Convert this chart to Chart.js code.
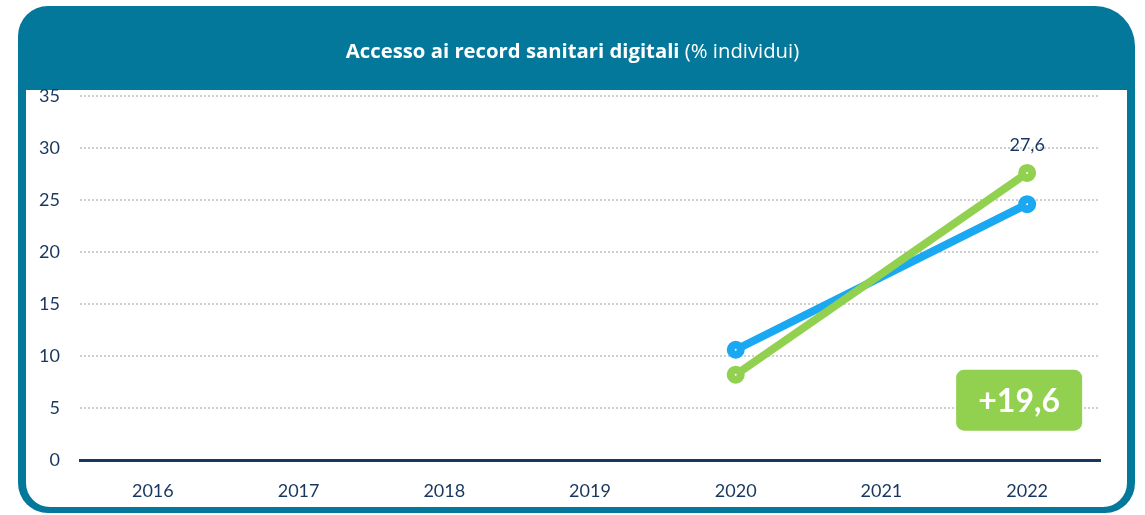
<!DOCTYPE html>
<html>
<head>
<meta charset="utf-8">
<script src="https://cdn.jsdelivr.net/npm/chart.js@4"></script>
<style>
  body { margin: 0; width: 1145px; height: 515px; background: #fff; font-family: "Open Sans", Lato, sans-serif; overflow: hidden; }
  #frame { position: absolute; left: 18px; top: 6px; width: 1117px; height: 507px; background: #03789a; border-radius: 30px 40px 30px 30px; }
  #inner { position: absolute; left: 8px; right: 8px; top: 84px; bottom: 6px; background: #fff; border-radius: 0 0 24px 24px; }
  #head { position: absolute; left: 0; right: 0; top: 6px; height: 84px; z-index: 2; text-align: center; color: #fff; font-size: 20.3px; line-height: 88px; pointer-events: none; }
  #head b { font-weight: 700; }
  #wrap { position: absolute; left: 26px; top: 83px; width: 1101px; height: 424px; z-index: 1; }
</style>
</head>
<body>
<div id="frame"><div id="inner"></div></div>
<div id="head"><b>Accesso ai record sanitari digitali</b> (% individui)</div>
<div id="wrap"><canvas id="myChart"></canvas></div>
<script>
const years = ["2016", "2017", "2018", "2019", "2020", "2021", "2022"];
const greenValues = [null, null, null, null, 8.2, null, 27.6];
const blueValues = [null, null, null, null, 10.6, null, 24.6];
const yTicks = [0, 5, 10, 15, 20, 25, 30, 35];
const lastLabel = "27,6";
const badgeText = "+19,6";

const navy = "#17375e";
const green = "#92d050";
const blue = "#1aa8f2";

//--LABEL ABOVE LAST GREEN POINT + BADGE-------------------------------------------
const extrasPlugin = {
  id: "extras",
  afterDatasetsDraw(chart) {
    const ctx = chart.ctx;
    const meta = chart.getDatasetMeta(0);
    const pt = meta.data[6];
    ctx.save();
    ctx.fillStyle = navy;
    ctx.font = "18px Lato";
    ctx.textAlign = "center";
    ctx.textBaseline = "middle";
    ctx.fillText(lastLabel, pt.x, pt.y - 28);

    let x = chart.scales.x.getPixelForValue(6) - 8;
    let y = chart.scales.y.getPixelForValue(5.75);
    let w = 126, h = 61;
    ctx.fillStyle = green;
    ctx.beginPath();
    ctx.roundRect(x - w / 2, y - h / 2, w, h, 8);
    ctx.fill();
    ctx.fillStyle = "#fff";
    ctx.font = "bold 32px Lato";
    ctx.fillText(badgeText, x, y + 1);
    ctx.restore();
  },
};

function makeSet(label, data, color) {
  return {
    label: label,
    data: data,
    borderColor: color,
    backgroundColor: "#fff",
    pointBorderColor: color,
    borderWidth: 8,
    pointRadius: 5,
    pointBorderWidth: 8,
    pointHoverRadius: 5,
    spanGaps: true,
    tension: 0,
  };
}

const ctx = document.getElementById("myChart").getContext("2d");
const myChart = new Chart(ctx, {
  type: "line",
  data: {
    labels: years,
    datasets: [makeSet("Italia", greenValues, green), makeSet("UE", blueValues, blue)],
  },
  options: {
    responsive: true,
    maintainAspectRatio: false,
    animation: false,
    layout: { padding: { top: 7, right: 27, bottom: 0, left: 0 } },
    plugins: { legend: { display: false }, tooltip: { enabled: false } },
    scales: {
      x: {
        offset: true,
        grid: { display: false, drawTicks: false },
        border: { display: true, color: navy, width: 3 },
        ticks: { color: navy, font: { family: "Lato", size: 18 }, padding: 20 },
        afterFit(scale) { scale.height = 47; },
      },
      y: {
        min: 0,
        max: 35,
        afterBuildTicks(scale) { scale.ticks = yTicks.map((v) => ({ value: v })); },
        grid: {
          drawTicks: false,
          color: (c) => (c.tick && c.tick.value === 0 ? "rgba(0,0,0,0)" : "#cfcfcf"),
          lineWidth: 2,
        },
        border: { display: false, dash: [2, 2] },
        ticks: { color: navy, font: { family: "Lato", size: 18 }, padding: 20 },
        afterFit(scale) {
          scale.width = 54;
          scale.paddingTop = 0;
          scale.paddingBottom = 0;
        },
      },
    },
  },
  plugins: [extrasPlugin],
});
</script>
</body>
</html>
